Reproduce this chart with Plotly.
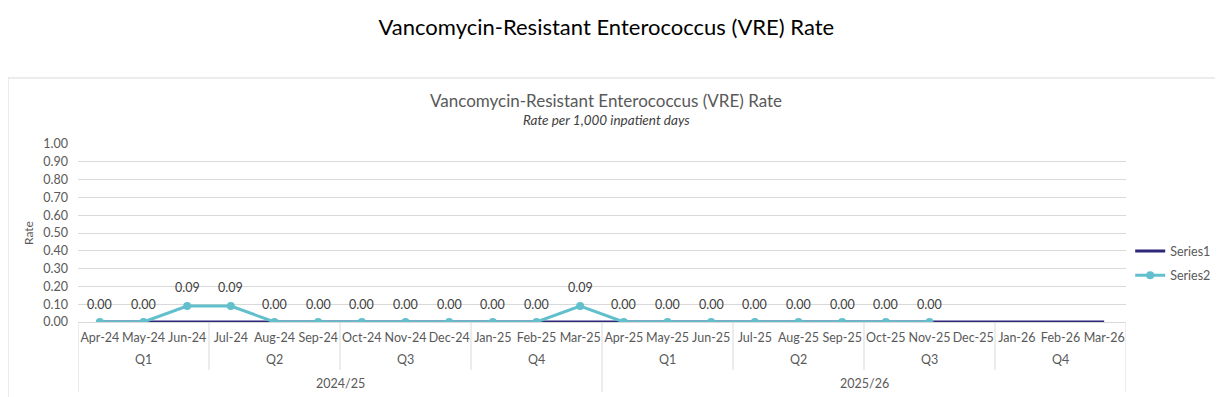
import plotly.graph_objects as go

months = ["Apr-24", "May-24", "Jun-24", "Jul-24", "Aug-24", "Sep-24", "Oct-24", "Nov-24",
          "Dec-24", "Jan-25", "Feb-25", "Mar-25", "Apr-25", "May-25", "Jun-25", "Jul-25",
          "Aug-25", "Sep-25", "Oct-25", "Nov-25", "Dec-25", "Jan-26", "Feb-26", "Mar-26"]
quarters = ["Q1", "Q2", "Q3", "Q4", "Q1", "Q2", "Q3", "Q4"]
years = ["2024/25", "2025/26"]
series1 = [0.0] * 24
series2 = [0.00, 0.00, 0.09, 0.09, 0.00, 0.00, 0.00, 0.00, 0.00, 0.00, 0.00, 0.09,
           0.00, 0.00, 0.00, 0.00, 0.00, 0.00, 0.00, 0.00]

FONT = "Lato, Liberation Sans, sans-serif"
GRAY = "#595959"
GRID = "#D9D9D9"

xi = list(range(len(months)))

fig = go.Figure()
fig.add_trace(go.Scatter(
    x=xi, y=series1, mode="lines", name="Series1", legendgroup="s1",
    line=dict(color="#2E2678", width=3), hoverinfo="skip"))
fig.add_trace(go.Scatter(
    x=xi[:len(series2)], y=series2, mode="lines+markers", name="Series2", legendgroup="s2",
    line=dict(color="#62BFCC", width=3), marker=dict(size=8, color="#62BFCC")))

shapes = []
for k in range(1, 8):
    xv = -0.5 + 3 * k
    if k == 4:
        continue
    shapes.append(dict(type="line", xref="x", yref="paper", x0=xv, x1=xv, y0=0, y1=-0.27,
                       line=dict(color=GRID, width=1)))
for xv in [-0.5, 11.5, 23.5]:
    shapes.append(dict(type="line", xref="x", yref="paper", x0=xv, x1=xv, y0=0, y1=-0.395,
                       line=dict(color=GRID, width=1)))
shapes.append(dict(type="rect", xref="paper", yref="paper", x0=-0.0668, x1=1.2, y0=-0.7, y1=1.371,
                   line=dict(color=GRID, width=1), fillcolor="rgba(0,0,0,0)", layer="below"))

annotations = []
for i, v in enumerate(series2):
    annotations.append(dict(x=i, y=v, xref="x", yref="y", text=f"{v:.2f}", showarrow=False,
                            yshift=18, yanchor="middle",
                            font=dict(size=12.5, color="#404040", family=FONT)))
for i, q in enumerate(quarters):
    annotations.append(dict(x=1 + 3 * i, y=-0.213, xref="x", yref="paper", text=q, showarrow=False,
                            yanchor="middle", font=dict(size=12.5, color=GRAY, family=FONT)))
for i, yr in enumerate(years):
    annotations.append(dict(x=5.5 + 12 * i, y=-0.343, xref="x", yref="paper", text=yr, showarrow=False,
                            yanchor="middle", font=dict(size=12.5, color=GRAY, family=FONT)))
annotations.append(dict(x=0.504, y=1.247, xref="paper", yref="paper", yanchor="middle",
                        text="Vancomycin-Resistant Enterococcus (VRE) Rate", showarrow=False,
                        font=dict(size=17, color=GRAY, family=FONT)))
annotations.append(dict(x=0.504, y=1.137, xref="paper", yref="paper", yanchor="middle",
                        text="<i>Rate per 1,000 inpatient days</i>", showarrow=False,
                        font=dict(size=13.5, color="#404040", family=FONT)))

fig.update_layout(
    width=1215, height=389,
    margin=dict(l=70, r=97, t=136, b=75, autoexpand=False),
    paper_bgcolor="white", plot_bgcolor="white",
    title=dict(text="Vancomycin-Resistant Enterococcus (VRE) Rate", x=0.4925, xanchor="center",
               y=0.951, yanchor="middle", font=dict(size=22, color="black", family=FONT)),
    font=dict(family=FONT, color=GRAY, size=12),
    showlegend=True,
    legend=dict(x=1.004, y=0.329, xanchor="left", yanchor="middle", font=dict(size=12.5, color=GRAY),
                tracegroupgap=5, itemwidth=30),
    xaxis=dict(range=[-0.5, 23.5], tickmode="array", tickvals=xi, ticktext=months,
               showgrid=False, zeroline=False, showline=True, linecolor=GRID, ticks="",
               tickfont=dict(size=12.5, color=GRAY), ticklabelstandoff=4, automargin=False,
               fixedrange=True),
    yaxis=dict(range=[0, 1.0], dtick=0.1, tickformat=".2f", showgrid=True, gridcolor=GRID,
               zeroline=False, showline=False, ticks="", tickfont=dict(size=12.5, color=GRAY),
               ticklabelstandoff=9,
               title=dict(text="Rate", font=dict(size=12, color=GRAY), standoff=7),
               automargin=False, fixedrange=True),
    shapes=shapes, annotations=annotations,
)

fig.write_html("out.html")
